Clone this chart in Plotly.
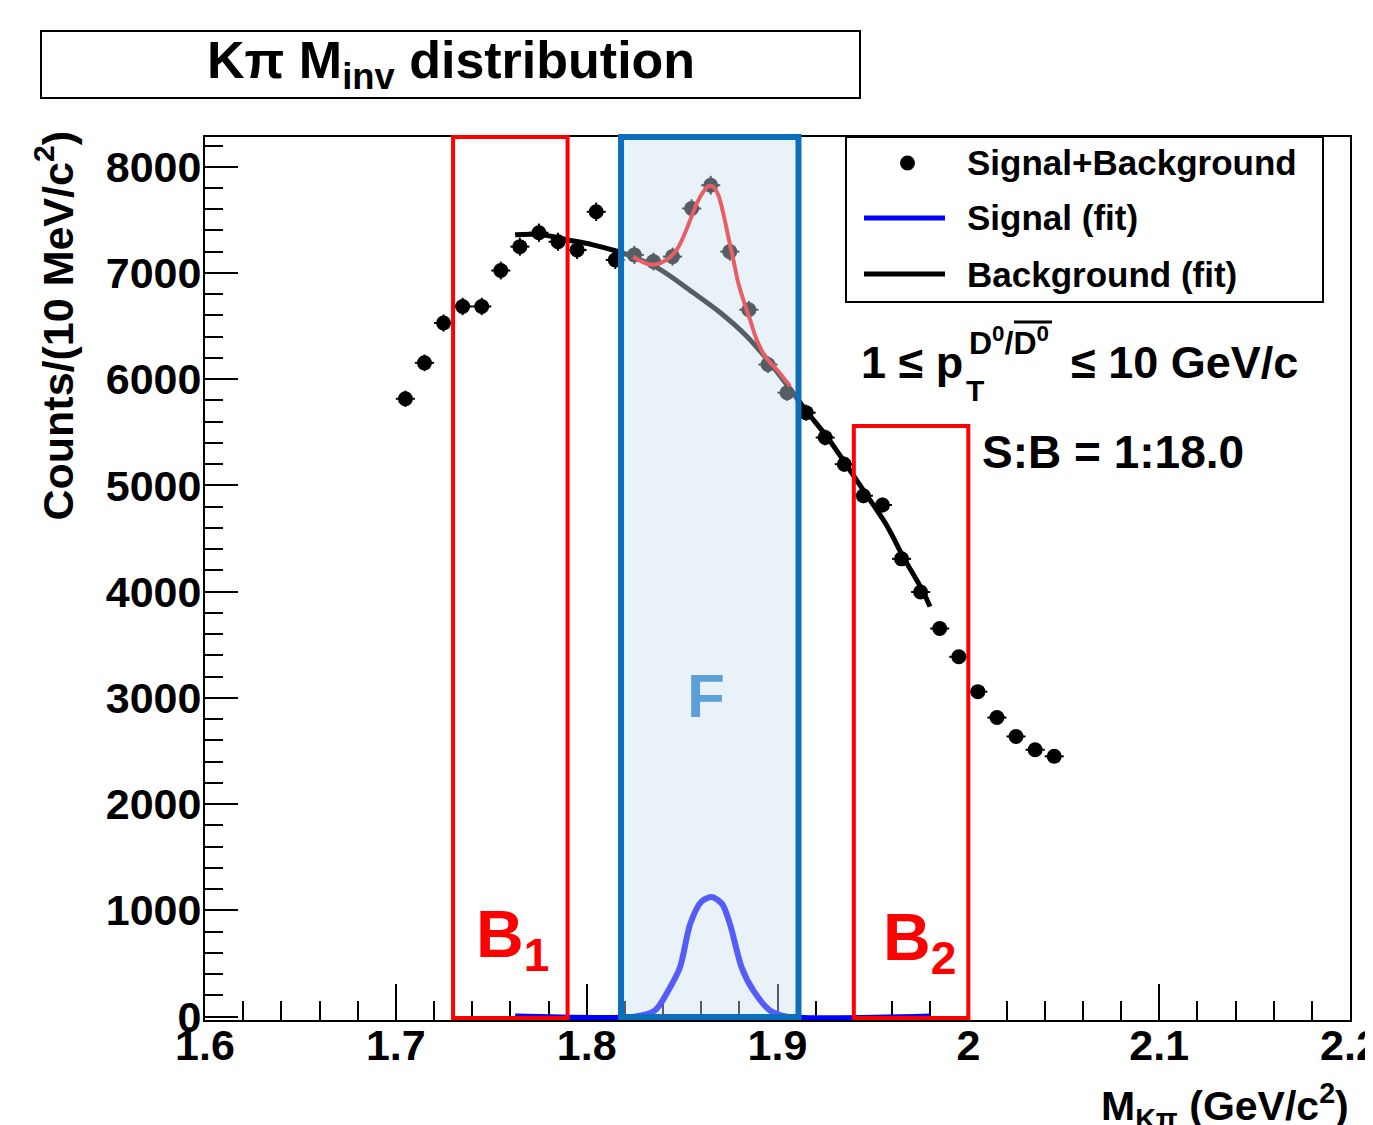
import plotly.graph_objects as go

# ---------------- data ----------------
mass = [1.705, 1.715, 1.725, 1.735, 1.745, 1.755, 1.765, 1.775, 1.785, 1.795,
        1.805, 1.815, 1.825, 1.835, 1.845, 1.855, 1.865, 1.875, 1.885, 1.895,
        1.905, 1.915, 1.925, 1.935, 1.945, 1.955, 1.965, 1.975, 1.985, 1.995,
        2.005, 2.015, 2.025, 2.035, 2.045]
counts = [5816, 6154, 6529, 6685, 6685, 7023, 7248, 7379, 7294, 7217,
          7576, 7123, 7170, 7107, 7154, 7607, 7826, 7201, 6654, 6138,
          5873, 5685, 5451, 5200, 4903, 4816, 4309, 3997, 3653, 3387,
          3059, 2815, 2637, 2512, 2450]

bkg_x = [1.7625, 1.7755, 1.7897, 1.8033, 1.8138, 1.8243, 1.8369, 1.8557, 1.8699, 1.8840,
         1.8945, 1.9066, 1.9155, 1.9260, 1.9364, 1.9469, 1.9574, 1.9658, 1.9763, 1.9799]
bkg_y = [7360, 7362, 7313, 7265, 7215, 7153, 7050, 6816, 6628, 6403,
         6188, 5907, 5691, 5457, 5185, 4904, 4619, 4330, 4000, 3859]

sb_x = [1.8243, 1.8340, 1.8419, 1.8472, 1.8507, 1.8542, 1.8577, 1.8611, 1.8638, 1.8664,
        1.8690, 1.8716, 1.8742, 1.8769, 1.8795, 1.8821, 1.8856, 1.8891, 1.8935, 1.8996, 1.9066]
sb_y = [7153, 7078, 7125, 7219, 7341, 7497, 7654, 7763, 7817, 7810,
        7732, 7561, 7341, 7122, 6903, 6747, 6560, 6372, 6216, 6091, 5934]

sig_x = [1.7625, 1.825, 1.8358, 1.8428, 1.8489, 1.8542, 1.8600, 1.8655, 1.8710,
         1.8751, 1.8812, 1.8873, 1.8961, 1.905, 1.98]
sig_y = [0, 0, 58, 246, 464, 870, 1080, 1125, 1060, 870, 464, 246, 58, 0, 0]

# analysis windows (GeV/c^2)
B1_range = [1.73, 1.79]
F_range = [1.818, 1.911]
B2_range = [1.94, 2.00]
B2_top = 5560

X_RANGE = [1.6, 2.2]
Y_RANGE = [-32, 8280]

# ---------------- layout helpers ----------------
# the page body has an 8 px margin; the helpers below work in screen pixels
OFF = 8
W, H = 1373 - OFF, 1125 - OFF
PLOT_L, PLOT_T, PLOT_R, PLOT_B = 205, 137, 1350, 1020
PW, PH = PLOT_R - PLOT_L, PLOT_B - PLOT_T
L, T = PLOT_L - OFF, PLOT_T - OFF
R, B = W - L - PW, H - T - PH


def xp(px):
    return (px - PLOT_L) / PW


def yp(py):
    return (PLOT_B - py) / PH


def ydata_to_paper(v):
    return (v - Y_RANGE[0]) / (Y_RANGE[1] - Y_RANGE[0])


FONT = "Liberation Sans"

fig = go.Figure()

fig.add_trace(go.Scatter(
    x=mass, y=counts, mode="markers", name="Signal+Background",
    marker=dict(color="black", size=15),
    error_x=dict(type="constant", value=0.005, thickness=2, width=0, color="black"),
    error_y=dict(type="sqrt", thickness=2, width=0, color="black"),
    showlegend=False))

fig.add_trace(go.Scatter(
    x=bkg_x, y=bkg_y, mode="lines", name="Background (fit)",
    line=dict(color="black", width=5, shape="spline"), showlegend=False))

fig.add_trace(go.Scatter(
    x=sb_x, y=sb_y, mode="lines", name="Signal+Background (fit)",
    line=dict(color="red", width=4, shape="spline"), showlegend=False))

fig.add_trace(go.Scatter(
    x=sig_x, y=sig_y, mode="lines", name="Signal (fit)",
    line=dict(color="blue", width=6, shape="spline", smoothing=0.8), showlegend=False))

shapes = []
# F window: translucent overlay + border
shapes.append(dict(type="rect", xref="x", yref="paper", x0=F_range[0], x1=F_range[1],
                   y0=0, y1=1, fillcolor="rgba(202,222,240,0.42)", line=dict(width=0),
                   layer="above"))
shapes.append(dict(type="rect", xref="x", yref="paper", x0=F_range[0], x1=F_range[1],
                   y0=yp(1017), y1=1, line=dict(color="#0B6FBE", width=6), layer="above"))
# B1, B2 windows
shapes.append(dict(type="rect", xref="x", yref="paper", x0=B1_range[0], x1=B1_range[1],
                   y0=yp(1018), y1=1, line=dict(color="#FF0000", width=4), layer="above"))
shapes.append(dict(type="rect", xref="x", yref="paper", x0=B2_range[0], x1=B2_range[1],
                   y0=yp(1018), y1=ydata_to_paper(B2_top),
                   line=dict(color="#FF0000", width=4), layer="above"))
# title box
shapes.append(dict(type="rect", xref="paper", yref="paper", x0=xp(41), x1=xp(860),
                   y0=yp(98), y1=yp(31), line=dict(color="black", width=2)))
# legend box
shapes.append(dict(type="rect", xref="paper", yref="paper", x0=xp(846), x1=xp(1323),
                   y0=yp(302), y1=yp(137), line=dict(color="black", width=2),
                   fillcolor="white", layer="above"))
shapes.append(dict(type="circle", xref="paper", yref="paper", x0=xp(900), x1=xp(915),
                   y0=yp(170.5), y1=yp(155.5), fillcolor="black", line=dict(width=0),
                   layer="above"))
shapes.append(dict(type="line", xref="paper", yref="paper", x0=xp(864), x1=xp(945),
                   y0=yp(218), y1=yp(218), line=dict(color="blue", width=5), layer="above"))
shapes.append(dict(type="line", xref="paper", yref="paper", x0=xp(864), x1=xp(945),
                   y0=yp(274), y1=yp(274), line=dict(color="black", width=5), layer="above"))
# overline of anti-D0
shapes.append(dict(type="line", xref="paper", yref="paper", x0=xp(1014), x1=xp(1052),
                   y0=yp(322), y1=yp(322), line=dict(color="black", width=3)))

anns = []


def txt(text, x, y, size, color="black", xanchor="left", yanchor="middle", angle=0):
    anns.append(dict(text=text, x=xp(x), y=yp(y), xref="paper", yref="paper",
                     xanchor=xanchor, yanchor=yanchor, showarrow=False, textangle=angle,
                     font=dict(family=FONT, size=size, color=color, weight="bold")))


txt("Kπ M<sub>inv</sub> distribution", 450.5, 64, 52, xanchor="center")
txt("Counts/(10 MeV/c<sup>2</sup>)", 54, 129, 43, xanchor="center", yanchor="top", angle=-90)
txt("M<sub>Kπ</sub> (GeV/c<sup>2</sup>)", 1351, 1106, 41, xanchor="right")

txt("Signal+Background", 965, 163, 35)
txt("Signal (fit)", 965, 218, 35)
txt("Background (fit)", 965, 274, 35)

txt("1 ≤ p", 859, 362, 45)
txt("T", 964, 390, 30)
txt("D<sup>0</sup>/D<sup>0</sup>", 967, 341, 32)
txt("≤ 10 GeV/c", 1069, 362, 45)
txt("S:B = 1:18.0", 980, 452, 46)

txt("F", 706, 695, 62, color="#5DA0D8", xanchor="center")
txt("B<sub>1</sub>", 512, 939, 66, color="#FF0000", xanchor="center")
txt("B<sub>2</sub>", 919, 942, 66, color="#FF0000", xanchor="center")

axis_common = dict(
    showline=True, linewidth=2, linecolor="black", mirror=True,
    showgrid=False, zeroline=False, ticks="inside", tickwidth=2, tickcolor="black",
    tickfont=dict(family=FONT, size=43, color="black", weight="bold"),
    ticklabeloverflow="allow", layer="below traces")

fig.update_xaxes(range=X_RANGE, tick0=1.6, dtick=0.1, ticklen=36, ticklabelstandoff=-14,
                 minor=dict(ticks="inside", ticklen=19, tickwidth=2, tickcolor="black",
                            dtick=0.02, tick0=1.6, showgrid=False),
                 **axis_common)
fig.update_yaxes(range=Y_RANGE, tick0=0, dtick=1000, ticklen=33, ticklabelstandoff=-7,
                 minor=dict(ticks="inside", ticklen=18, tickwidth=2, tickcolor="black",
                            dtick=200, tick0=0, showgrid=False),
                 **axis_common)

fig.update_layout(
    width=W, height=H, margin=dict(l=L, r=R, t=T, b=B, autoexpand=False),
    paper_bgcolor="white", plot_bgcolor="white",
    shapes=shapes, annotations=anns, showlegend=False)

fig.write_html("out.html")
